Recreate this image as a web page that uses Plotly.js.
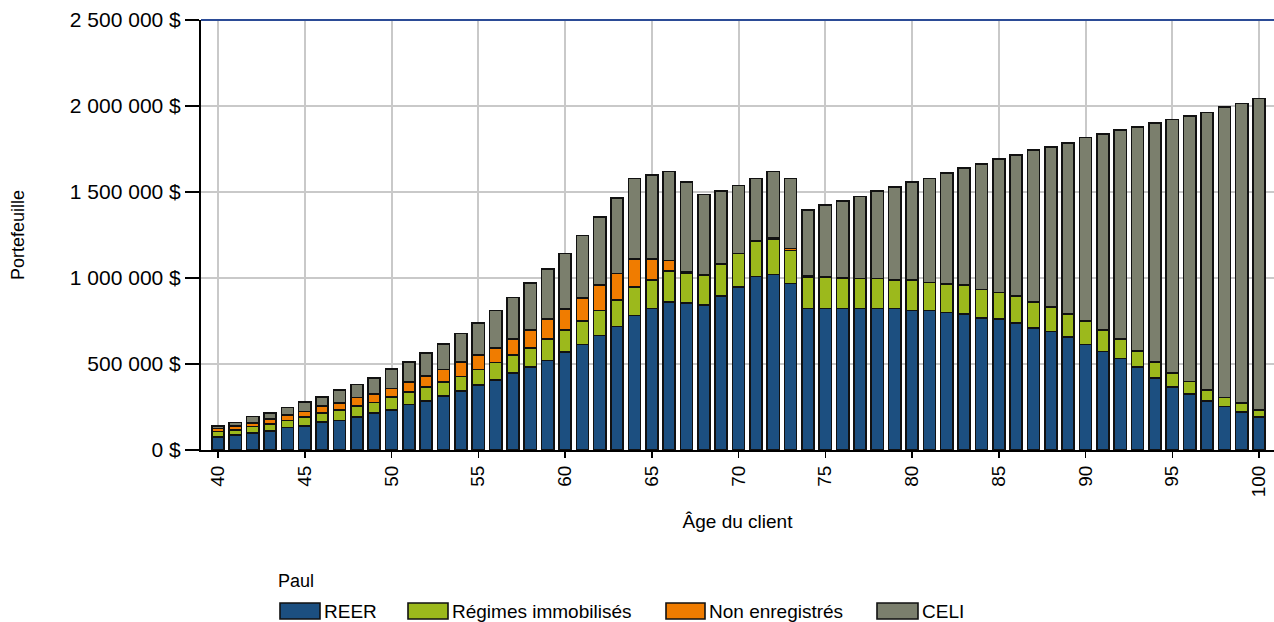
<!DOCTYPE html>
<html>
<head>
<meta charset="utf-8">
<script src="https://cdn.plot.ly/plotly-3.0.1.min.js"></script>
<style>html,body{margin:0;padding:0;background:#fff;}#chart{width:1274px;height:622px;}</style>
</head>
<body>
<div id="chart"></div>
<script>
// Ages 40..100
const ages = [];
for (let a = 40; a <= 100; a++) ages.push(a);

// Values in thousands of dollars
const reer = [75,88,100,110,131,139,162,172,191,214,234,265,284,313,344,377,406,447,482,521,
  571,614,665,717,781,822,862,853,843,895,948,1008,1020,967,822,822,822,822,822,822,
  812,812,800,791,769,760,740,709,690,657,614,573,533,482,418,366,327,284,253,222,191];
const immobilises = [33,29,37,41,41,52,52,62,64,62,74,72,82,82,83,91,103,105,111,124,
  126,136,146,155,165,165,177,175,173,186,194,208,206,194,184,180,178,176,176,165,
  175,163,165,167,165,155,155,153,142,132,136,126,114,93,93,81,72,64,52,50,43];
const nonEnregistres = [17,24,19,31,33,33,41,41,51,50,50,60,64,72,84,83,85,93,105,115,
  122,134,148,155,165,124,62,8,0,0,0,0,10,10,5,5,0,0,0,0,
  0,0,0,0,0,0,0,0,0,0,0,0,0,0,0,0,0,0,0,0,0];
const celi = [16,19,39,33,41,54,52,74,74,91,113,116,134,149,167,188,217,241,272,291,
  324,363,396,439,468,489,518,521,470,425,396,363,384,407,386,416,446,477,508,541,
  572,603,646,683,728,776,819,881,931,997,1067,1139,1213,1304,1389,1475,1544,1614,1688,1742,1810];

const seriesNames = ["REER", "Régimes immobilisés", "Non enregistrés", "CELI"];
const seriesValues = [reer, immobilises, nonEnregistres, celi];
const seriesColors = ["#1c4f80", "#9cb91c", "#f07c00", "#7b7f6d"];
const legendTitle = "Paul";

const xTickVals = [40,45,50,55,60,65,70,75,80,85,90,95,100];
const yTickVals = [0,500000,1000000,1500000,2000000,2500000];
const yTickText = ["0 $","500 000 $","1 000 000 $","1 500 000 $","2 000 000 $","2 500 000 $"];

const FONT = "Liberation Sans, Arial, sans-serif";

// plot-area geometry (pixels)
const L = 201, T = 20, W = 1073, H = 430;
const px2x = px => (px - L) / W;
const py2y = py => (T + H - py) / H;

const traces = seriesValues.map((vals, i) => ({
  type: "bar",
  name: seriesNames[i],
  x: ages,
  y: vals.map(v => v * 1000),
  marker: { color: seriesColors[i], line: { color: "#111", width: 1.6 } },
  showlegend: false
}));

// custom legend (wide swatches like the reference)
const legendBoxes = [[280, 320], [408, 448], [666, 705], [877, 918]];
const shapes = [{
  type: "line", xref: "paper", x0: 0, x1: 1, yref: "paper", y0: 1, y1: 1,
  line: { color: "#2b4b96", width: 2 }
}];
const annotations = [{
  xref: "paper", yref: "paper", x: px2x(276), y: py2y(581), xanchor: "left", yanchor: "middle",
  text: legendTitle, showarrow: false, font: { size: 18, family: FONT, color: "#000" }
}];
seriesNames.forEach((n, i) => {
  const [a, b] = legendBoxes[i];
  shapes.push({
    type: "rect", xref: "paper", yref: "paper",
    x0: px2x(a), x1: px2x(b), y0: py2y(619), y1: py2y(603),
    fillcolor: seriesColors[i], line: { color: "#111", width: 1.6 }
  });
  annotations.push({
    xref: "paper", yref: "paper", x: px2x(b + 2), y: py2y(611), xanchor: "left", yanchor: "middle",
    text: n, showarrow: false, font: { size: 19, family: FONT, color: "#000" }
  });
});

const layout = {
  width: 1274, height: 622,
  margin: { l: L, r: 1274 - L - W, t: T, b: 622 - T - H },
  barmode: "stack",
  bargap: 0.3,
  paper_bgcolor: "#fff",
  plot_bgcolor: "#fff",
  font: { family: FONT, color: "#000", size: 16 },
  showlegend: false,
  xaxis: {
    range: [39.02, 100.86],
    tickvals: xTickVals,
    tickangle: -90,
    ticks: "outside", ticklen: 6, tickwidth: 1.5, tickcolor: "#000",
    tickfont: { size: 19, family: FONT },
    showgrid: true, gridcolor: "#c9c9c9", gridwidth: 2,
    showline: true, linecolor: "#000", linewidth: 2,
    zeroline: false,
    title: { text: "Âge du client", font: { size: 19, family: FONT }, standoff: 18 }
  },
  yaxis: {
    range: [0, 2500000],
    tickvals: yTickVals,
    ticktext: yTickText,
    ticks: "outside", ticklen: 14, tickwidth: 1.5, tickcolor: "#000",
    tickfont: { size: 21, family: FONT },
    showgrid: true, gridcolor: "#c9c9c9", gridwidth: 2,
    showline: true, linecolor: "#000", linewidth: 2,
    zeroline: false,
    title: { text: "Portefeuille", font: { size: 18, family: FONT }, standoff: 41 }
  },
  shapes: shapes,
  annotations: annotations
};

Plotly.newPlot("chart", traces, layout, { displayModeBar: false, staticPlot: true });
</script>
</body>
</html>
